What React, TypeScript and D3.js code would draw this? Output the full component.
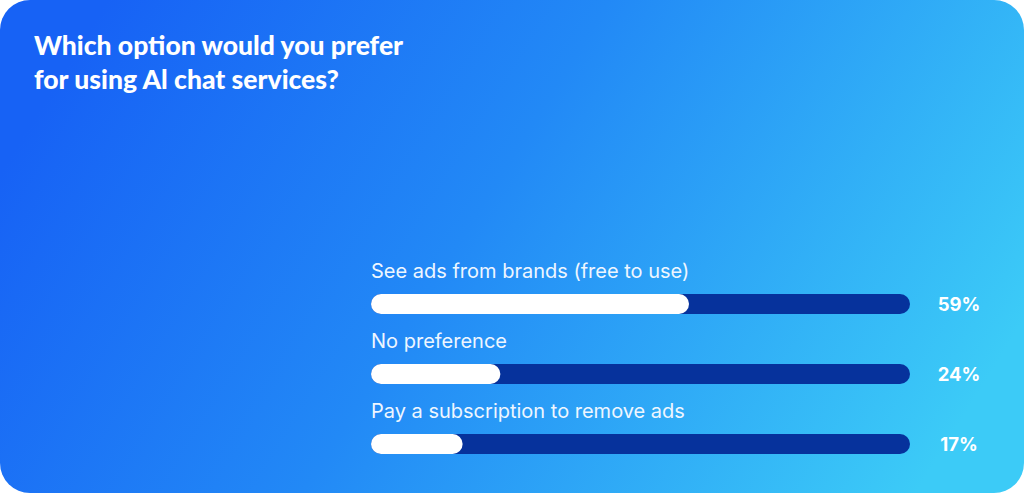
import React, { useRef, useEffect } from "react";
import * as d3 from "d3";

const categories = [
  "See ads from brands (free to use)",
  "No preference",
  "Pay a subscription to remove ads",
];
const shares = [59, 24, 17];
const titleLines = ["Which option would you prefer", "for using Al chat services?"];

const App = () => {
  const ref = useRef<SVGSVGElement>(null);

  useEffect(() => {
    const width = 1024;
    const height = 493;
    const svg = d3.select(ref.current);
    svg.selectAll("*").remove();

    // background card with gradient
    const defs = svg.append("defs");
    const grad = defs
      .append("linearGradient")
      .attr("id", "bg")
      .attr("x1", "0%")
      .attr("y1", "35%")
      .attr("x2", "100%")
      .attr("y2", "65%");
    grad.append("stop").attr("offset", "0%").attr("stop-color", "#1762f5");
    grad.append("stop").attr("offset", "45%").attr("stop-color", "#2289f6");
    grad.append("stop").attr("offset", "100%").attr("stop-color", "#3ccbf7");

    svg
      .append("rect")
      .attr("width", width)
      .attr("height", height)
      .attr("rx", 30)
      .attr("fill", "url(#bg)");

    // title
    svg
      .append("text")
      .attr("font-family", "Lato, sans-serif")
      .attr("font-weight", 900)
      .attr("font-size", 26.5)
      .attr("fill", "#ffffff")
      .selectAll("tspan")
      .data(titleLines)
      .join("tspan")
      .attr("x", 34)
      .attr("y", (_, i) => 55 + i * 34)
      .text((d) => d);

    // bars
    const x = d3.scaleLinear().domain([0, 100]).range([371, 910]);
    const y = d3
      .scaleBand<string>()
      .domain(categories)
      .range([260, 470])
      .paddingInner(0);
    const barH = 20;

    const rows = svg
      .selectAll("g.row")
      .data(categories)
      .join("g")
      .attr("class", "row")
      .attr("transform", (d) => `translate(0, ${y(d)})`);

    rows
      .append("text")
      .attr("x", x(0))
      .attr("y", 18)
      .attr("font-family", "Inter, sans-serif")
      .attr("font-size", 20)
      .attr("fill", "#eef6ff")
      .text((d) => d);

    rows
      .append("rect")
      .attr("x", x(0))
      .attr("y", 34)
      .attr("width", x(100) - x(0))
      .attr("height", barH)
      .attr("rx", barH / 2)
      .attr("fill", "#06329c");

    rows
      .append("rect")
      .attr("x", x(0))
      .attr("y", 34)
      .attr("width", (_, i) => x(shares[i]) - x(0))
      .attr("height", barH)
      .attr("rx", barH / 2)
      .attr("fill", "#ffffff");

    rows
      .append("text")
      .attr("x", 959)
      .attr("y", 50.5)
      .attr("text-anchor", "middle")
      .attr("font-family", "Inter, sans-serif")
      .attr("font-weight", 700)
      .attr("font-size", 18.5)
      .attr("fill", "#ffffff")
      .text((_, i) => `${shares[i]}%`);
  }, []);

  return (
    <div style={{ position: "absolute", left: 0, top: 0 }}>
      <svg ref={ref} width={1024} height={493} style={{ display: "block" }} />
    </div>
  );
};

export default App;
